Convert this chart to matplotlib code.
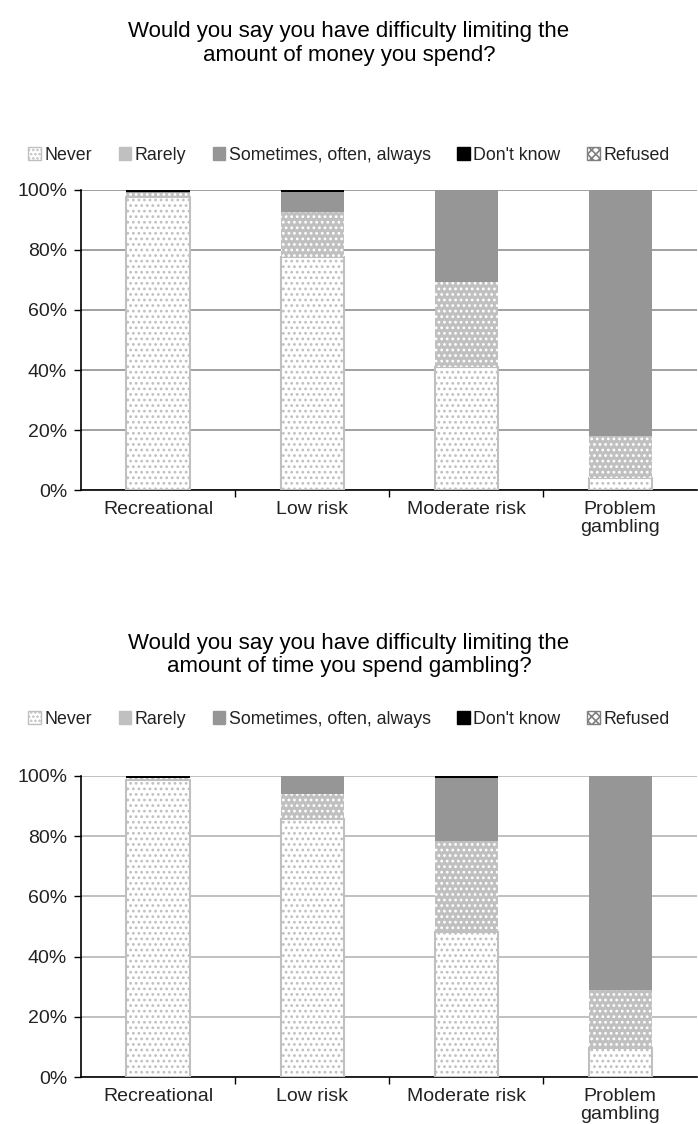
import matplotlib.pyplot as plt
import matplotlib.patches as mpatches
import numpy as np

plt.rcParams['font.family'] = ['Liberation Sans', 'DejaVu Sans']
plt.rcParams['hatch.linewidth'] = 1.2

# data
groups = ["Recreational", "Low risk", "Moderate risk", "Problem\ngambling"]
responses = ["Never", "Rarely", "Sometimes, often, always", "Don't know", "Refused"]

money_never = [97.5, 77.8, 41.0, 4.0]
money_rarely = [1.5, 14.9, 28.4, 14.1]
money_sometimes = [0.3, 6.6, 30.6, 81.9]
money_dontknow = [0.7, 0.7, 0.0, 0.0]
money_refused = [0.0, 0.0, 0.0, 0.0]

time_never = [98.6, 85.5, 48.0, 9.5]
time_rarely = [0.6, 8.4, 30.5, 19.5]
time_sometimes = [0.0, 6.1, 20.9, 71.0]
time_dontknow = [0.8, 0.0, 0.6, 0.0]
time_refused = [0.0, 0.0, 0.0, 0.0]

titles = ["Would you say you have difficulty limiting the\namount of money you spend?",
          "Would you say you have difficulty limiting the\namount of time you spend gambling?"]

LIGHT = "#c0c0c0"
MID = "#969696"


def draw_panel(ax, never, rarely, sometimes, dontknow, refused, grid_color):
    x = np.arange(len(groups)) + 0.5
    w = 0.41
    bottom = np.zeros(len(groups))
    # never: white with grey dots
    ax.bar(x, never, w, bottom=bottom, color="white", edgecolor=LIGHT,
           hatch="...", linewidth=1.5, zorder=3)
    bottom += never
    # rarely: light grey with white dots
    ax.bar(x, rarely, w, bottom=bottom, color=LIGHT, edgecolor="none", zorder=3)
    ax.bar(x, rarely, w, bottom=bottom, color="none", edgecolor="white",
           hatch="...", linewidth=0, zorder=3)
    bottom += rarely
    ax.bar(x, sometimes, w, bottom=bottom, color=MID, edgecolor="none", zorder=3)
    bottom += sometimes
    ax.bar(x, dontknow, w, bottom=bottom, color="black", edgecolor="none", zorder=3)
    bottom += dontknow
    ax.bar(x, refused, w, bottom=bottom, color="white", edgecolor="#808080",
           hatch="xxxx", linewidth=0, zorder=3)

    ax.set_xlim(0, len(groups))
    ax.set_ylim(0, 100)
    ax.set_yticks(np.arange(0, 101, 20))
    ax.set_yticklabels([f"{v}%" for v in range(0, 101, 20)], fontsize=14, color="#222222")
    ax.yaxis.grid(True, color=grid_color, linewidth=1.3, zorder=0)
    ax.set_axisbelow(True)
    ax.set_xticks([1, 2, 3])
    ax.set_xticklabels([])
    ax.set_xticks(x, minor=True)
    ax.set_xticklabels(groups, minor=True, fontsize=14, color="#222222",
                       linespacing=1.05)
    ax.tick_params(axis="x", which="minor", length=0, pad=8)
    ax.tick_params(axis="x", which="major", length=5, direction="out", width=1)
    ax.tick_params(axis="y", length=5, direction="out", width=1, pad=5)
    for s in ["top", "right"]:
        ax.spines[s].set_visible(False)
    ax.spines["left"].set_linewidth(1.2)
    ax.spines["bottom"].set_linewidth(1.2)


fig = plt.figure(figsize=(6.98, 11.24), dpi=100)
ax1 = fig.add_axes([0.116, 0.564, 0.883, 0.267])
ax2 = fig.add_axes([0.116, 0.0418, 0.883, 0.268])

draw_panel(ax1, money_never, money_rarely, money_sometimes, money_dontknow, money_refused, "#999999")
draw_panel(ax2, time_never, time_rarely, time_sometimes, time_dontknow, time_refused, "#bbbbbb")

fig.text(0.5, 0.981, titles[0], ha="center", va="top", fontsize=16, linespacing=1.15)
fig.text(0.5, 0.437, titles[1], ha="center", va="top", fontsize=16, linespacing=1.15)

handles = [
    mpatches.Patch(facecolor="white", edgecolor=LIGHT, hatch="...."),
    mpatches.Patch(facecolor=LIGHT, edgecolor=LIGHT),
    mpatches.Patch(facecolor=MID, edgecolor=MID),
    mpatches.Patch(facecolor="black", edgecolor="black"),
    mpatches.Patch(facecolor="white", edgecolor="#808080", hatch="xxxx"),
]
for y in [0.862, 0.36]:
    fig.legend(handles, responses, loc="center", bbox_to_anchor=(0.5, y), ncol=5,
               frameon=False, fontsize=12.8, handlelength=0.7, handleheight=0.7,
               handletextpad=0.2, columnspacing=1.5, labelcolor="#222222")

fig.savefig("out.png", dpi=100)
